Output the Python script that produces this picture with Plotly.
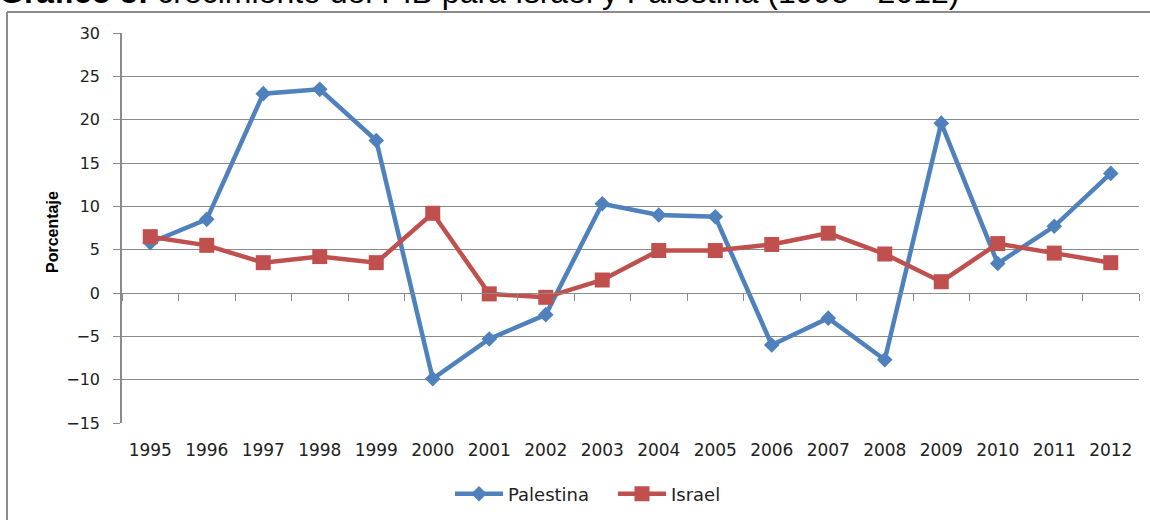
import plotly.graph_objects as go

years = [str(y) for y in range(1995, 2013)]
palestina = [5.8, 8.5, 23.0, 23.5, 17.6, -9.9, -5.3, -2.5, 10.3, 9.0, 8.8,
             -6.0, -2.9, -7.7, 19.6, 3.4, 7.7, 13.8]
israel = [6.5, 5.5, 3.5, 4.2, 3.5, 9.2, -0.1, -0.5, 1.5, 4.9, 4.9,
          5.6, 6.9, 4.5, 1.3, 5.7, 4.6, 3.5]
y_ticks = [30, 25, 20, 15, 10, 5, 0, -5, -10, -15]

BLUE = "#4F81BD"
RED = "#C0504D"
GRID = "#8a8a8a"
W, H = 1150, 520
ML, MR, MT, MB = 122, 11, 33, 97
PW, PH = W - ML - MR, H - MT - MB

fig = go.Figure()
fig.add_trace(go.Scatter(
    x=years, y=palestina, name="Palestina", mode="lines+markers",
    line=dict(color=BLUE, width=4.5),
    marker=dict(symbol="diamond", size=12, color=BLUE),
))
fig.add_trace(go.Scatter(
    x=years, y=israel, name="Israel", mode="lines+markers",
    line=dict(color=RED, width=4.5),
    marker=dict(symbol="square", size=15, color=RED),
))
# invisible trace carrying the category axis that crosses at zero
fig.add_trace(go.Scatter(
    x=years, y=[None] * len(years), xaxis="x2", showlegend=False,
    hoverinfo="skip", mode="lines",
))

fig.update_layout(
    width=W, height=H,
    margin=dict(l=ML, r=MR, t=MT, b=MB, autoexpand=False),
    paper_bgcolor="white", plot_bgcolor="white",
    showlegend=True,
    legend=dict(
        orientation="h", x=(450 - ML) / PW, xanchor="left",
        y=1 - (494 - MT) / PH, yanchor="middle",
        font=dict(family="DejaVu Sans", size=18, color="#222"),
        itemwidth=48, entrywidth=100, entrywidthmode="pixels",
        bgcolor="rgba(0,0,0,0)",
    ),
    xaxis=dict(
        type="category", categoryorder="array", categoryarray=years,
        range=[-0.5, len(years) - 0.5], automargin=False,
        showgrid=False, showline=False, zeroline=False,
        ticks="outside", ticklen=12, tickcolor="rgba(0,0,0,0)",
        tickfont=dict(family="DejaVu Sans", size=17, color="#222"),
    ),
    xaxis2=dict(
        type="category", categoryorder="array", categoryarray=years,
        range=[-0.5, len(years) - 0.5], automargin=False,
        overlaying="x", anchor="free", position=(0 - (-15)) / 45,
        showgrid=False, showline=True, linecolor=GRID, linewidth=1,
        ticks="outside", tickson="boundaries", ticklen=7, tickcolor=GRID,
        showticklabels=False, zeroline=False,
    ),
    yaxis=dict(
        range=[-15, 30], tickmode="array", tickvals=y_ticks, automargin=False,
        showgrid=True, gridcolor=GRID, gridwidth=1,
        showline=True, linecolor=GRID, linewidth=1.5,
        ticks="outside", ticklen=7, tickcolor=GRID,
        zeroline=False,
        tickfont=dict(family="DejaVu Sans", size=16, color="#222"),
        ticklabelstandoff=10,
    ),
)

# y-axis title
fig.add_annotation(
    text="<b>Porcentaje</b>", textangle=-90, showarrow=False,
    xref="paper", yref="paper", x=(52 - ML) / PW, y=1 - (232 - MT) / PH,
    xanchor="center", yanchor="middle",
    font=dict(family="Liberation Sans", size=16, color="black"),
)

# cropped title at the very top
fig.add_annotation(
    text="<b>Gráfico 5:</b> crecimiento del PIB para Israel y Palestina (1995 - 2012)",
    showarrow=False, xref="paper", yref="paper",
    x=(-3 - ML) / PW, xanchor="left",
    y=1 + (MT - 12) / PH, yanchor="bottom",
    font=dict(family="Liberation Sans", size=32, color="black"),
)

# outer frame lines (top and left)
fig.add_shape(type="line", xref="paper", yref="paper",
              x0=(7 - ML) / PW, x1=(W + 5 - ML) / PW,
              y0=1 + (MT - 12) / PH, y1=1 + (MT - 12) / PH,
              line=dict(color="#8c8c8c", width=2))
fig.add_shape(type="line", xref="paper", yref="paper",
              x0=(7 - ML) / PW, x1=(7 - ML) / PW,
              y0=1 + (MT - 12) / PH, y1=1 - (H + 5 - MT) / PH,
              line=dict(color="#8c8c8c", width=2))

fig.write_html(
    "out.html",
    config={"displayModeBar": False},
    post_script="document.body.style.margin='0';document.body.style.overflow='hidden';",
)
